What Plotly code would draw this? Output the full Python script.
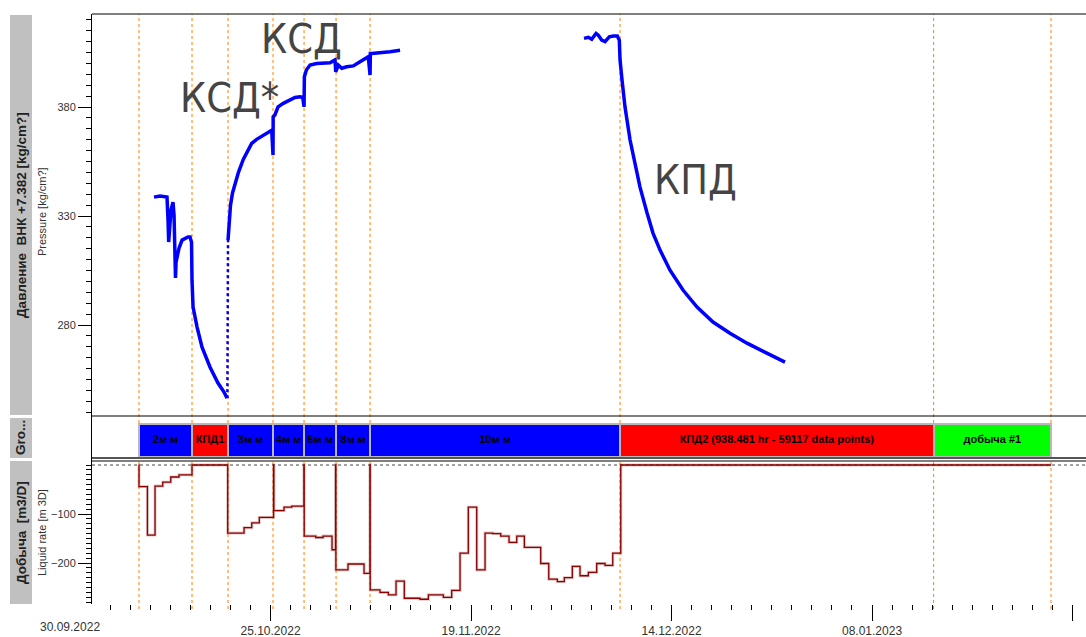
import pandas as pd
import plotly.graph_objects as go

T0 = pd.Timestamp("2022-09-30")
DAY_MS = 86400000

# Bottom-hole pressure, days since 30.09.2022 / kg/cm2 (None = no record)
p_days = [10.47, 11.22, 12.09, 12.15, 12.22, 12.30, 12.45, 12.59, 12.84, 12.97, 13.05, 13.15,
          13.22, 13.34, 13.59, 13.97, 14.34, 14.71, 14.96, 15.15,
          15.21, 15.34, 15.84, 16.46, 17.46, 18.45, 19.20, 19.58, None,
          19.70, 19.83, 20.01, 20.26, 20.64, 21.01, 21.60, 22.03, 22.65, 23.27, 24.10, 24.73, 25.15,
          25.31, 25.33,
          25.53, 25.94, 26.59, 27.43, 28.05, 28.68, 29.01, 29.18, 29.22,
          29.47, 29.93, 30.76, 31.59, 32.42, 33.04, 33.13, 33.45, 33.88, 34.50, 35.32, 36.16,
          36.78, 37.19, 37.41, 37.45,
          37.60, 38.65, 39.90, 41.15, None,
          64.09, 64.63, 65.05, 65.25, 65.59, 65.87, 66.30, 66.71, 67.24, 67.74, 68.24, 68.49,
          68.58, 68.83, 69.20, 69.83, 70.45, 71.07, 71.95, 72.69, 73.57, 74.81, 76.43, 78.18,
          80.17, 82.29, 84.41, 86.91, 89.15]
p_vals = [338.7, 339.2, 338.7, 335.0, 328.2, 318.1, 323.6, 332.8, 336.4, 330.5, 317.6, 301.6,
          308.9, 310.7, 315.3, 319.0, 319.9, 320.4, 320.4, 318.0,
          300.6, 288.3, 279.1, 269.9, 260.7, 253.4, 249.3, 246.5, None,
          319.0, 327.2, 335.0, 340.6, 345.6, 350.2, 356.0, 358.8, 363.3, 365.2, 367.2, 368.7, 369.4,
          358.0, 375.6,
          376.3, 380.1, 381.7, 383.2, 384.4, 384.7, 384.4, 380.1, 393.9,
          397.0, 399.3, 400.0, 400.0, 400.3, 401.6, 396.2, 399.3, 397.8, 398.5, 398.9, 400.8,
          402.3, 403.1, 394.7, 404.6,
          404.6, 404.9, 405.4, 406.1, None,
          411.5, 412.0, 411.1, 412.2, 413.8, 413.0, 410.7, 410.0, 412.2, 412.6, 412.6, 410.7,
          401.6, 392.4, 380.0, 364.9, 354.3, 343.3, 331.4, 322.2, 314.4, 305.2, 296.1, 288.3,
          281.4, 276.3, 271.7, 267.2, 263.0]

# sparse readings on the pressure jump when 3 mm flow starts
jump_days = [19.62, 19.70]
jump_vals = [246.5, 319.0]

# Liquid rate history (step starts), days / m3/D
q_days = [8.58, 8.60, 9.65, 10.60, 11.56, 12.56, 13.59, 15.21, 19.66, 21.70, 22.66, 23.60,
          25.38, 25.42, 26.68, 27.64, 29.16, 29.20, 30.64, 31.55, 32.67, 33.11, 33.15, 34.66,
          36.66, 37.39, 37.43, 38.65, 39.69, 40.65, 41.68, 43.64, 44.68, 46.55, 47.59, 48.63,
          49.66, 50.71, 51.75, 52.71, 53.70, 54.74, 55.70, 56.65, 58.69, 59.69, 60.76, 61.63,
          62.63, 63.59, 64.63, 65.67, 66.71, 67.67, 68.67, 122.32]
q_vals = [0, -44, -143, -43, -35, -24.5, -20, 0, -139, -128, -118, -107,
          0, -93, -86, -84, 0, -145, -148, -145, -173, 0, -214, -202,
          -221, 0, -255, -260, -265, -237, -272, -274, -265, -270, -256, -180,
          -86, -214, -139, -140, -145, -158, -145, -168, -201, -233, -238, -230,
          -207, -226, -219, -201, -205, -180, 0, 0]

# Flow periods
grp_labels = ["2м м", "КПД1", "3м м", "4м м", "6м м", "8м м", "10м м",
              "КПД2 (938.481 hr - 59117 data points)", "добыча #1"]
grp_start = [8.60, 15.21, 19.70, 25.31, 29.18, 33.17, 37.41, 68.58, 107.68]
grp_end = [15.21, 19.70, 25.31, 29.18, 33.17, 37.41, 68.58, 107.68, 122.32]
grp_colors = ["#0000ff", "#ff0000", "#0000ff", "#0000ff", "#0000ff", "#0000ff", "#0000ff",
              "#ff0000", "#00ff00"]


def to_dt(d):
    return None if d is None else T0 + pd.Timedelta(days=d)


W, H = 1086, 637
X_LEFT = 92 / W
X_RANGE = [to_dt(2.74), to_dt(126.68)]


def py(px):
    return 1 - px / H


fig = go.Figure()

fig.add_trace(go.Scatter(
    x=[to_dt(d) for d in p_days], y=p_vals, mode="lines", yaxis="y",
    line=dict(color="#0000ff", width=3.5), connectgaps=False, hoverinfo="skip"))
fig.add_trace(go.Scatter(
    x=[to_dt(d) for d in jump_days], y=jump_vals, mode="lines", yaxis="y",
    line=dict(color="#0000ff", width=2.5, dash="dot"), hoverinfo="skip"))

q_x = [to_dt(d) for d in q_days]
fig.add_trace(go.Scatter(
    x=q_x, y=q_vals, mode="lines", yaxis="y3", line_shape="hv",
    line=dict(color="rgba(160,60,60,0.3)", width=3), hoverinfo="skip"))
fig.add_trace(go.Scatter(
    x=q_x, y=q_vals, mode="lines", yaxis="y3", line_shape="hv",
    line=dict(color="#8b0000", width=1.3), hoverinfo="skip"))

fig.add_trace(go.Bar(
    orientation="h", yaxis="y2",
    base=[to_dt(s) for s in grp_start],
    x=[(e - s) * DAY_MS for s, e in zip(grp_start, grp_end)],
    y=[0] * len(grp_labels), width=1,
    marker=dict(color=grp_colors, line=dict(color="#b8b8b8", width=2)),
    textposition="none", hoverinfo="skip"))
# period names centred on each bar
fig.add_trace(go.Scatter(
    x=[to_dt((s + e) / 2) for s, e in zip(grp_start, grp_end)], y=[0] * len(grp_labels),
    yaxis="y2", mode="text", text=grp_labels, textposition="middle center",
    textfont=dict(family="Arial", size=11, color="black", weight=700),
    cliponaxis=False, hoverinfo="skip"))

tick_font = dict(family="Arial", size=11, color="#333333")
side_font = dict(family="Arial", size=13.5, color="#222222")
narrow = "DejaVu Sans Condensed, Liberation Sans Narrow, Roboto"

shapes = []
# gray title strips on the left
for y0, y1 in [(15, 415), (418, 458), (461, 604)]:
    shapes.append(dict(type="rect", xref="paper", yref="paper", x0=10 / W, x1=32 / W,
                       y0=py(y1), y1=py(y0), fillcolor="#c0c0c0", line=dict(width=0),
                       layer="below"))
# flow period boundaries (behind the data)
for d in grp_start + [grp_end[-1]]:
    shapes.append(dict(type="line", xref="x", yref="paper", x0=to_dt(d), x1=to_dt(d),
                       y0=py(609), y1=py(14), layer="below",
                       line=dict(color="#ff8000", width=1, dash="dot")))
# zero rate reference
shapes.append(dict(type="line", xref="paper", yref="y3", x0=X_LEFT, x1=1, y0=0, y1=0,
                   layer="below", line=dict(color="#444444", width=1, dash="dot")))
# panel separators
for yy in [14, 416, 461]:
    shapes.append(dict(type="line", xref="paper", yref="paper", x0=X_LEFT, x1=1,
                       y0=py(yy), y1=py(yy), line=dict(color="black", width=1.2)))
shapes.append(dict(type="line", xref="paper", yref="paper", x0=X_LEFT, x1=1,
                   y0=py(458), y1=py(458), line=dict(color="#555555", width=2)))


def side(text, x, y, font):
    return dict(text=text, xref="paper", yref="paper", x=x / W, y=py(y), textangle=-90,
                xanchor="center", yanchor="middle", showarrow=False, font=font)


big_font = dict(family=narrow, size=41, color="#444444")
annotations = [
    side("<b>Давление  ВНК +7.382 [kg/cm?]</b>", 21, 215, side_font),
    side("<b>Gro...</b>", 21, 438, side_font),
    side("<b>Добыча  [m3/D]</b>", 21, 533, side_font),
    side("Pressure [kg/cm?]", 42, 212, dict(family="Arial", size=11, color="#333333")),
    side("Liquid rate [m 3D]", 42, 533, dict(family="Arial", size=11, color="#333333")),
    dict(text="КСД*", xref="x", yref="y", x=to_dt(19.83), y=384.1, showarrow=False,
         xanchor="center", yanchor="middle", font=big_font),
    dict(text="КСД", xref="x", yref="y", x=to_dt(28.80), y=411.2, showarrow=False,
         xanchor="center", yanchor="middle", font=big_font),
    dict(text="КПД", xref="x", yref="y", x=to_dt(78.05), y=346.5, showarrow=False,
         xanchor="center", yanchor="middle", font=big_font),
]

# first date label sits left of the plotted range
span = (X_RANGE[1] - X_RANGE[0]).total_seconds()
frac = (T0 - X_RANGE[0]).total_seconds() / span
annotations.append(dict(text="30.09.2022", xref="paper", yref="paper",
                        x=X_LEFT + frac * (1 - X_LEFT), y=py(627), showarrow=False,
                        xanchor="center", yanchor="middle",
                        font=dict(family="Arial", size=12, color="#333333")))

fig.update_layout(
    width=W, height=H, margin=dict(l=0, r=0, t=0, b=0),
    paper_bgcolor="white", plot_bgcolor="white", showlegend=False, bargap=0,
    shapes=shapes, annotations=annotations,
    xaxis=dict(type="date", domain=[X_LEFT, 1], range=X_RANGE, anchor="y3",
               tickformat="%d.%m.%Y", tick0="2022-09-30", dtick=25 * DAY_MS,
               ticks="outside", ticklen=16, tickcolor="black", tickwidth=1,
               minor=dict(tick0="2022-09-30", dtick=2.5 * DAY_MS, ticks="outside",
                          ticklen=5, tickcolor="black"),
               showgrid=False, showline=False, zeroline=False,
               tickfont=dict(family="Arial", size=12, color="#333333")),
    yaxis=dict(domain=[py(416), py(14)], range=[238.3, 422.7], anchor="x",
               tick0=280, dtick=50, ticks="outside", ticklen=13, tickcolor="black",
               minor=dict(dtick=5, ticks="outside", ticklen=5, tickcolor="black"),
               showline=True, linecolor="black", showgrid=False, zeroline=False,
               tickfont=tick_font),
    yaxis2=dict(domain=[py(461), py(416)], range=[-0.621, 0.742], anchor="x",
                showticklabels=False, showgrid=False, zeroline=False, ticks="",
                showline=True, linecolor="black"),
    yaxis3=dict(domain=[py(604), py(461)], range=[-283.7, 8.2], anchor="x",
                tickvals=[-100, -200], ticks="outside", ticklen=13, tickcolor="black",
                minor=dict(tick0=0, dtick=10, ticks="outside", ticklen=5, tickcolor="black"),
                showline=True, linecolor="black", showgrid=False, zeroline=False,
                tickfont=tick_font),
)

fig.write_html("out.html")
